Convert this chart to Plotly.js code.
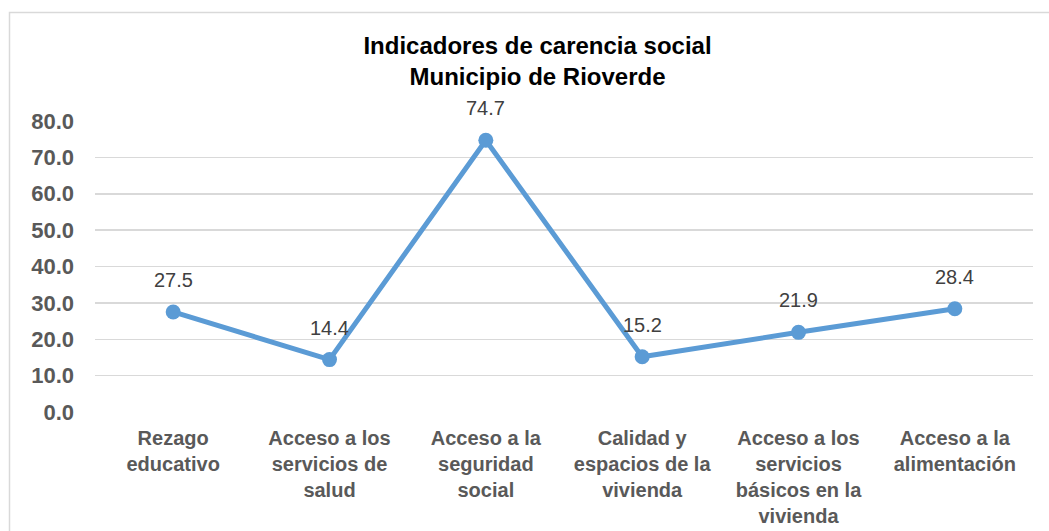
<!DOCTYPE html>
<html>
<head>
<meta charset="utf-8">
<script src="https://cdn.plot.ly/plotly-3.0.1.min.js"></script>
<style>
  html, body { margin: 0; padding: 0; background: #ffffff; }
  #chart { width: 1049px; height: 531px; }
</style>
</head>
<body>
<div id="chart"></div>
<script>
const categories = [
  "Rezago<br>educativo",
  "Acceso a los<br>servicios de<br>salud",
  "Acceso a la<br>seguridad<br>social",
  "Calidad y<br>espacios de la<br>vivienda",
  "Acceso a los<br>servicios<br>básicos en la<br>vivienda",
  "Acceso a la<br>alimentación"
];
const values = [27.5, 14.4, 74.7, 15.2, 21.9, 28.4];
const labels = ["27.5", "14.4", "74.7", "15.2", "21.9", "28.4"];
const yTicks = [0, 10, 20, 30, 40, 50, 60, 70, 80];
const yTickText = ["0.0", "10.0", "20.0", "30.0", "40.0", "50.0", "60.0", "70.0", "80.0"];
const titleText = "Indicadores de carencia social<br>Municipio de Rioverde";

const trace = {
  type: "scatter",
  mode: "lines+markers",
  x: categories,
  y: values,
  line: { color: "#5B9BD5", width: 5 },
  marker: { color: "#5B9BD5", size: 15 },
  cliponaxis: false,
  hoverinfo: "x+y"
};

const annotations = categories.map((c, i) => ({
  x: c, y: values[i], xref: "x", yref: "y",
  text: labels[i], showarrow: false,
  yshift: 32,
  font: { family: "Liberation Sans, Arial, sans-serif", size: 20, color: "#404040" }
}));

const layout = {
  width: 1049, height: 531,
  margin: { l: 95, r: 16, t: 121, b: 119 },
  paper_bgcolor: "#ffffff",
  plot_bgcolor: "#ffffff",
  showlegend: false,
  title: {
    text: "<b>" + titleText + "</b>",
    font: { family: "Liberation Sans, Arial, sans-serif", size: 24, color: "#000000" },
    x: 537.5 / 1049, xref: "container", xanchor: "center",
    y: 1 - 54 / 531, yref: "container", yanchor: "top"
  },
  xaxis: {
    type: "category",
    range: [-0.5, 5.5],
    showgrid: false,
    zeroline: false,
    showline: false,
    ticks: "",
    ticklabelstandoff: 12,
    tickfont: { family: "Liberation Sans, Arial, sans-serif", size: 20, color: "#595959", weight: "bold" },
    fixedrange: true
  },
  yaxis: {
    range: [0, 80],
    tickvals: yTicks,
    ticktext: yTickText,
    showgrid: true,
    gridcolor: "#d9d9d9",
    gridwidth: 1.5,
    zeroline: false,
    showline: false,
    ticks: "",
    ticklabelstandoff: 20,
    tickfont: { family: "Liberation Sans, Arial, sans-serif", size: 22, color: "#595959", weight: "bold" },
    fixedrange: true
  },
  annotations: annotations,
  shapes: [{
    type: "rect", xref: "paper", yref: "paper",
    x0: (9.5 - 95) / 938, x1: (1070 - 95) / 938,
    y0: (412 - 560) / 291, y1: 1 + (121 - 12.5) / 291,
    line: { color: "#d9d9d9", width: 1.5 },
    fillcolor: "rgba(0,0,0,0)",
    layer: "below"
  }]
};

Plotly.newPlot("chart", [trace], layout, { displayModeBar: false, staticPlot: true });
</script>
</body>
</html>
